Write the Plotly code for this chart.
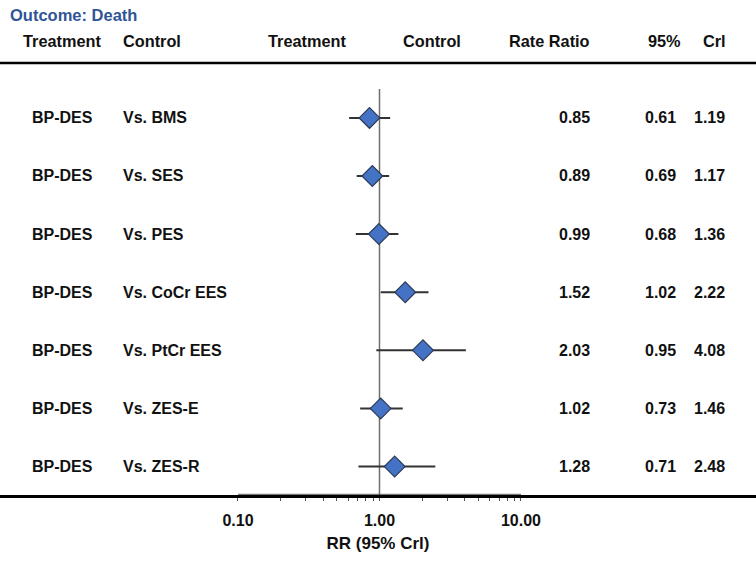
import plotly.graph_objects as go

# ---- data ----
treatments = ["BP-DES"] * 7
controls = ["Vs. BMS", "Vs. SES", "Vs. PES", "Vs. CoCr EES", "Vs. PtCr EES", "Vs. ZES-E", "Vs. ZES-R"]
rate_ratio = [0.85, 0.89, 0.99, 1.52, 2.03, 1.02, 1.28]
ci_low = [0.61, 0.69, 0.68, 1.02, 0.95, 0.73, 0.71]
ci_high = [1.19, 1.17, 1.36, 2.22, 4.08, 1.46, 2.48]
tick_values = [0.1, 0.2, 0.3, 0.4, 0.5, 0.6, 0.7, 0.8, 0.9, 1, 2, 3, 4, 5, 6, 7, 8, 9, 10]
tick_labels = ["0.10", "", "", "", "", "", "", "", "", "1.00", "", "", "", "", "", "", "", "", "10.00"]
headers = ["Treatment", "Control", "Treatment", "Control", "Rate Ratio", "95%", "Crl"]
title_text = "Outcome: Death"
axis_title = "RR (95% Crl)"

W, H = 756, 567
PLOT_H = 495.5
ROW0, ROWSTEP = 118, 58.17
FONT = "Liberation Sans"
rows = list(range(len(controls)))

def px(x):
    return x / W

def py(y):
    return 1 - y / PLOT_H

fig = go.Figure()

# reference line at RR = 1
fig.add_trace(go.Scatter(
    x=[1, 1], y=[(89 - ROW0) / ROWSTEP, 6.6], mode="lines",
    line=dict(color="#6f6f6f", width=1.5), hoverinfo="skip", showlegend=False,
    cliponaxis=False,
))

# thin axis segment 0.1 - 10
fig.add_trace(go.Scatter(
    x=[tick_values[0], tick_values[-1]], y=[(494.8 - ROW0) / ROWSTEP] * 2, mode="lines",
    line=dict(color="#555555", width=1), hoverinfo="skip", showlegend=False,
    cliponaxis=False,
))

# estimates with CrI
fig.add_trace(go.Scatter(
    x=rate_ratio, y=rows, mode="markers",
    marker=dict(symbol="diamond", size=16, color="#4472C4",
                line=dict(color="#2d3b55", width=1.2)),
    error_x=dict(type="data", symmetric=False,
                 array=[h - r for h, r in zip(ci_high, rate_ratio)],
                 arrayminus=[r - l for r, l in zip(rate_ratio, ci_low)],
                 color="#333333", thickness=2, width=0),
    showlegend=False,
))

annotations = []
bold = dict(family=FONT, size=16, color="#111111", weight="bold")
bold_hdr = dict(family=FONT, size=16.3, color="#111111", weight="bold")

# title
annotations.append(dict(text=title_text, xref="paper", yref="paper", x=px(8), y=py(15),
                        xanchor="left", yanchor="middle", showarrow=False,
                        font=dict(family=FONT, size=16.5, color="#2F5597", weight="bold")))

# headers
header_pos = [(21, "left"), (121, "left"), (266, "left"), (401, "left"),
              (592, "right"), (646, "left"), (701, "left")]
for text, (x, anc) in zip(headers, header_pos):
    annotations.append(dict(text=text, xref="paper", yref="paper", x=px(x), y=py(41),
                            xanchor=anc, yanchor="middle", showarrow=False, font=bold_hdr))

# rows
for i in rows:
    cells = [
        (treatments[i], 30, "left"),
        (controls[i], 121, "left"),
        (f"{rate_ratio[i]:.2f}", 592, "right"),
        (f"{ci_low[i]:.2f}", 678, "right"),
        (f"{ci_high[i]:.2f}", 727, "right"),
    ]
    for text, x, anc in cells:
        annotations.append(dict(text=text, xref="paper", yref="y", x=px(x), y=i,
                                xanchor=anc, yanchor="middle", showarrow=False, font=bold))

# top rule
shapes = [dict(type="line", xref="paper", yref="paper", x0=0, x1=1, y0=py(63), y1=py(63),
               line=dict(color="black", width=2.5))]

fig.update_layout(
    width=W, height=H,
    margin=dict(l=0, r=0, t=0, b=H - PLOT_H),
    paper_bgcolor="white", plot_bgcolor="white",
    annotations=annotations, shapes=shapes,
    xaxis=dict(type="log", range=[-2.682, 2.661],
               showline=True, linecolor="black", linewidth=3,
               ticks="outside", ticklen=3, tickwidth=1, tickcolor="#555555",
               tickvals=tick_values, ticktext=tick_labels,
               tickfont=dict(family=FONT, size=16, color="#111111", weight="bold"),
               ticklabelstandoff=6,
               showgrid=False, zeroline=False,
               title=dict(text=axis_title, standoff=9,
                          font=dict(family=FONT, size=17, color="#111111", weight="bold"))),
    yaxis=dict(range=[(PLOT_H - ROW0) / ROWSTEP, -ROW0 / ROWSTEP],
               visible=False, showgrid=False, zeroline=False),
)

fig.write_html("out.html", config={"displayModeBar": False},
               post_script="document.body.style.margin='0px';")
